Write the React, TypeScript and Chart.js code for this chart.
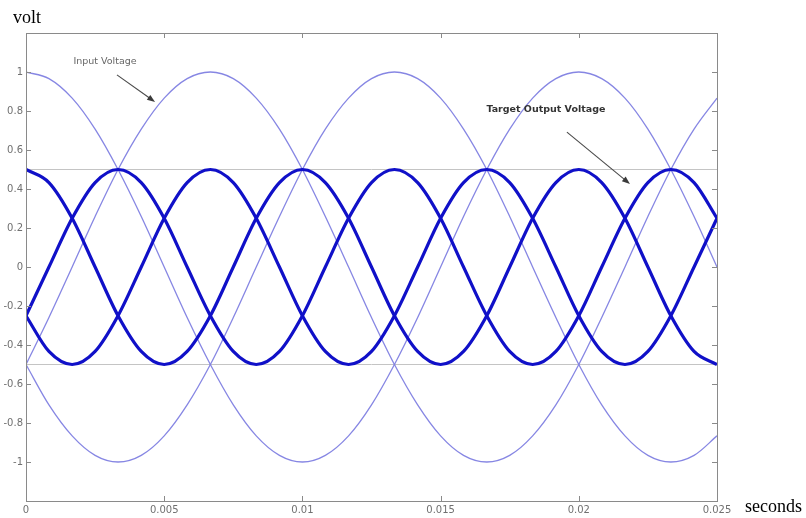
import React, { useEffect, useRef } from 'react';
import { Chart, registerables } from 'chart.js';

Chart.register(...registerables);

// time samples (seconds)
const times = [
  0, 0.00083, 0.00167, 0.0025, 0.00333, 0.00417, 0.005, 0.00583, 0.00667, 0.0075,
  0.00833, 0.00917, 0.01, 0.01083, 0.01167, 0.0125, 0.01333, 0.01417, 0.015, 0.01583,
  0.01667, 0.0175, 0.01833, 0.01917, 0.02, 0.02083, 0.02167, 0.0225, 0.02333, 0.02417,
  0.025,
];

// input voltages (thin lines)
const inputA = [
  1, 0.966, 0.866, 0.707, 0.5, 0.259, 0, -0.259, -0.5, -0.707,
  -0.866, -0.966, -1, -0.966, -0.866, -0.707, -0.5, -0.259, 0, 0.259,
  0.5, 0.707, 0.866, 0.966, 1, 0.966, 0.866, 0.707, 0.5, 0.259,
  0,
];
const inputB = [
  -0.5, -0.259, 0, 0.259, 0.5, 0.707, 0.866, 0.966, 1, 0.966,
  0.866, 0.707, 0.5, 0.259, 0, -0.259, -0.5, -0.707, -0.866, -0.966,
  -1, -0.966, -0.866, -0.707, -0.5, -0.259, 0, 0.259, 0.5, 0.707,
  0.866,
];
const inputC = [
  -0.5, -0.707, -0.866, -0.966, -1, -0.966, -0.866, -0.707, -0.5, -0.259,
  0, 0.259, 0.5, 0.707, 0.866, 0.966, 1, 0.966, 0.866, 0.707,
  0.5, 0.259, 0, -0.259, -0.5, -0.707, -0.866, -0.966, -1, -0.966,
  -0.866,
];

// target output voltages (thick lines)
const outputA = [
  0.5, 0.433, 0.25, 0, -0.25, -0.433, -0.5, -0.433, -0.25, 0,
  0.25, 0.433, 0.5, 0.433, 0.25, 0, -0.25, -0.433, -0.5, -0.433,
  -0.25, 0, 0.25, 0.433, 0.5, 0.433, 0.25, 0, -0.25, -0.433,
  -0.5,
];
const outputB = [
  -0.25, 0, 0.25, 0.433, 0.5, 0.433, 0.25, 0, -0.25, -0.433,
  -0.5, -0.433, -0.25, 0, 0.25, 0.433, 0.5, 0.433, 0.25, 0,
  -0.25, -0.433, -0.5, -0.433, -0.25, 0, 0.25, 0.433, 0.5, 0.433,
  0.25,
];
const outputC = [
  -0.25, -0.433, -0.5, -0.433, -0.25, 0, 0.25, 0.433, 0.5, 0.433,
  0.25, 0, -0.25, -0.433, -0.5, -0.433, -0.25, 0, 0.25, 0.433,
  0.5, 0.433, 0.25, 0, -0.25, -0.433, -0.5, -0.433, -0.25, 0,
  0.25,
];

// reference levels (thin gray horizontal lines)
const refLevels = [0.5, -0.5];

// axes
const xRange = [0, 0.025];
const yRange = [-1.2, 1.2];
const xTickValues = [0, 0.005, 0.01, 0.015, 0.02, 0.025];
const xTickLabels = ['0', '0.005', '0.01', '0.015', '0.02', '0.025'];
const yTickValues = [-1, -0.8, -0.6, -0.4, -0.2, 0, 0.2, 0.4, 0.6, 0.8, 1];
const yTickLabels = ['-1', '-0.8', '-0.6', '-0.4', '-0.2', '0', '0.2', '0.4', '0.6', '0.8', '1'];
const yAxisTitle = 'volt';
const xAxisTitle = 'seconds';

// annotations (in data units)
const inputNote = { text: 'Input Voltage', x: 0.00286, y: 1.056, fromX: 0.00329, fromY: 0.985, toX: 0.00467, toY: 0.846 };
const outputNote = { text: 'Target Output Voltage', x: 0.01881, y: 0.805, fromX: 0.01957, fromY: 0.692, toX: 0.02185, toY: 0.426 };

const toPoints = (ys: number[]) => ys.map((y, i) => ({ x: times[i], y }));

const INPUT_COLOR = 'rgba(128,128,226,0.95)';
const OUTPUT_COLOR = '#1010c8';
const FRAME_COLOR = '#8a8a8a';

function drawArrow(ctx: CanvasRenderingContext2D, x0: number, y0: number, x1: number, y1: number) {
  ctx.save();
  ctx.strokeStyle = '#4a4a4a';
  ctx.fillStyle = '#3a3a3a';
  ctx.lineWidth = 1.1;
  const ang = Math.atan2(y1 - y0, x1 - x0);
  const hl = 8;
  const hw = 3;
  ctx.beginPath();
  ctx.moveTo(x0, y0);
  ctx.lineTo(x1 - Math.cos(ang) * hl * 0.8, y1 - Math.sin(ang) * hl * 0.8);
  ctx.stroke();
  ctx.beginPath();
  ctx.moveTo(x1, y1);
  ctx.lineTo(x1 - Math.cos(ang) * hl - Math.sin(ang) * hw, y1 - Math.sin(ang) * hl + Math.cos(ang) * hw);
  ctx.lineTo(x1 - Math.cos(ang) * hl + Math.sin(ang) * hw, y1 - Math.sin(ang) * hl - Math.cos(ang) * hw);
  ctx.closePath();
  ctx.fill();
  ctx.restore();
}

const framePlugin = {
  id: 'matlabFrame',
  afterDatasetsDraw(chart: any) {
    const { ctx, chartArea: a, scales } = chart;
    const xs = scales.x;
    const ys = scales.y;
    ctx.save();
    // box
    ctx.strokeStyle = FRAME_COLOR;
    ctx.lineWidth = 1;
    ctx.strokeRect(Math.round(a.left) + 0.5, Math.round(a.top) + 0.5, Math.round(a.right - a.left), Math.round(a.bottom - a.top));
    // inward ticks
    const tl = 5;
    ctx.beginPath();
    xTickValues.forEach((v) => {
      const px = Math.round(xs.getPixelForValue(v)) + 0.5;
      if (px <= a.left + 1 || px >= a.right - 1) return;
      ctx.moveTo(px, a.bottom);
      ctx.lineTo(px, a.bottom - tl);
      ctx.moveTo(px, a.top);
      ctx.lineTo(px, a.top + tl);
    });
    yTickValues.forEach((v) => {
      const py = Math.round(ys.getPixelForValue(v)) + 0.5;
      ctx.moveTo(a.left, py);
      ctx.lineTo(a.left + tl, py);
      ctx.moveTo(a.right, py);
      ctx.lineTo(a.right - tl, py);
    });
    ctx.stroke();

    // annotations
    ctx.textAlign = 'center';
    ctx.textBaseline = 'middle';
    ctx.font = '9.5px "DejaVu Sans"';
    ctx.fillStyle = '#666666';
    ctx.fillText(inputNote.text, xs.getPixelForValue(inputNote.x), ys.getPixelForValue(inputNote.y));
    ctx.font = 'bold 9.5px "DejaVu Sans"';
    ctx.fillStyle = '#333333';
    ctx.fillText(outputNote.text, xs.getPixelForValue(outputNote.x), ys.getPixelForValue(outputNote.y));
    ctx.restore();

    drawArrow(ctx, xs.getPixelForValue(inputNote.fromX), ys.getPixelForValue(inputNote.fromY), xs.getPixelForValue(inputNote.toX), ys.getPixelForValue(inputNote.toY));
    drawArrow(ctx, xs.getPixelForValue(outputNote.fromX), ys.getPixelForValue(outputNote.fromY), xs.getPixelForValue(outputNote.toX), ys.getPixelForValue(outputNote.toY));
  },
  afterDraw(chart: any) {
    const { ctx, chartArea: a } = chart;
    ctx.save();
    ctx.fillStyle = '#000000';
    ctx.font = '18px "Liberation Serif"';
    ctx.textAlign = 'left';
    ctx.textBaseline = 'alphabetic';
    ctx.fillText(yAxisTitle, a.left - 13, a.top - 10);
    ctx.fillText(xAxisTitle, a.right + 28, a.bottom + 11);
    ctx.restore();
  },
};

export default function App() {
  const canvasRef = useRef<HTMLCanvasElement | null>(null);

  useEffect(() => {
    document.body.style.margin = '0';
    const canvas = canvasRef.current;
    if (!canvas) return;

    const thin = (data: number[]) => ({
      data: toPoints(data),
      borderColor: INPUT_COLOR,
      borderWidth: 1.3,
      pointRadius: 0,
      cubicInterpolationMode: 'monotone' as const,
      fill: false,
      order: 2,
    });
    const thick = (data: number[]) => ({
      data: toPoints(data),
      borderColor: OUTPUT_COLOR,
      borderWidth: 3.2,
      pointRadius: 0,
      cubicInterpolationMode: 'monotone' as const,
      fill: false,
      order: 1,
    });
    const refLine = (level: number) => ({
      data: [
        { x: xRange[0], y: level },
        { x: xRange[1], y: level },
      ],
      borderColor: '#c4c4c4',
      borderWidth: 1,
      pointRadius: 0,
      fill: false,
      order: 3,
    });

    const chart = new Chart(canvas, {
      type: 'line',
      data: {
        datasets: [
          thick(outputA),
          thick(outputB),
          thick(outputC),
          thin(inputA),
          thin(inputB),
          thin(inputC),
          ...refLevels.map(refLine),
        ],
      },
      options: {
        animation: false,
        responsive: false,
        devicePixelRatio: 1,
        layout: { padding: { left: 0, top: 33, right: 89, bottom: 0 } },
        plugins: {
          legend: { display: false },
          tooltip: { enabled: false },
        },
        scales: {
          x: {
            type: 'linear',
            min: xRange[0],
            max: xRange[1],
            grid: { display: false, drawTicks: false, tickLength: 0 },
            border: { display: false },
            afterBuildTicks: (scale: any) => {
              scale.ticks = xTickValues.map((v) => ({ value: v }));
            },
            afterFit: (scale: any) => {
              scale.height = 17;
            },
            ticks: {
              autoSkip: false,
              maxRotation: 0,
              padding: 3,
              color: '#707070',
              font: { family: '"DejaVu Sans"', size: 10 },
              callback: (_v: any, i: number) => xTickLabels[i],
            },
          },
          y: {
            type: 'linear',
            min: yRange[0],
            max: yRange[1],
            grid: { display: false, drawTicks: false, tickLength: 0 },
            border: { display: false },
            afterBuildTicks: (scale: any) => {
              scale.ticks = yTickValues.map((v) => ({ value: v }));
            },
            afterFit: (scale: any) => {
              scale.width = 26;
            },
            ticks: {
              autoSkip: false,
              padding: 3,
              color: '#707070',
              font: { family: '"DejaVu Sans"', size: 10 },
              callback: (_v: any, i: number) => yTickLabels[i],
            },
          },
        },
      },
      plugins: [framePlugin],
    } as any);

    return () => chart.destroy();
  }, []);

  return (
    <div style={{ position: 'absolute', left: 0, top: 0, width: 806, height: 518, background: '#ffffff' }}>
      <canvas ref={canvasRef} width={806} height={518} style={{ width: 806, height: 518, display: 'block' }} />
    </div>
  );
}
